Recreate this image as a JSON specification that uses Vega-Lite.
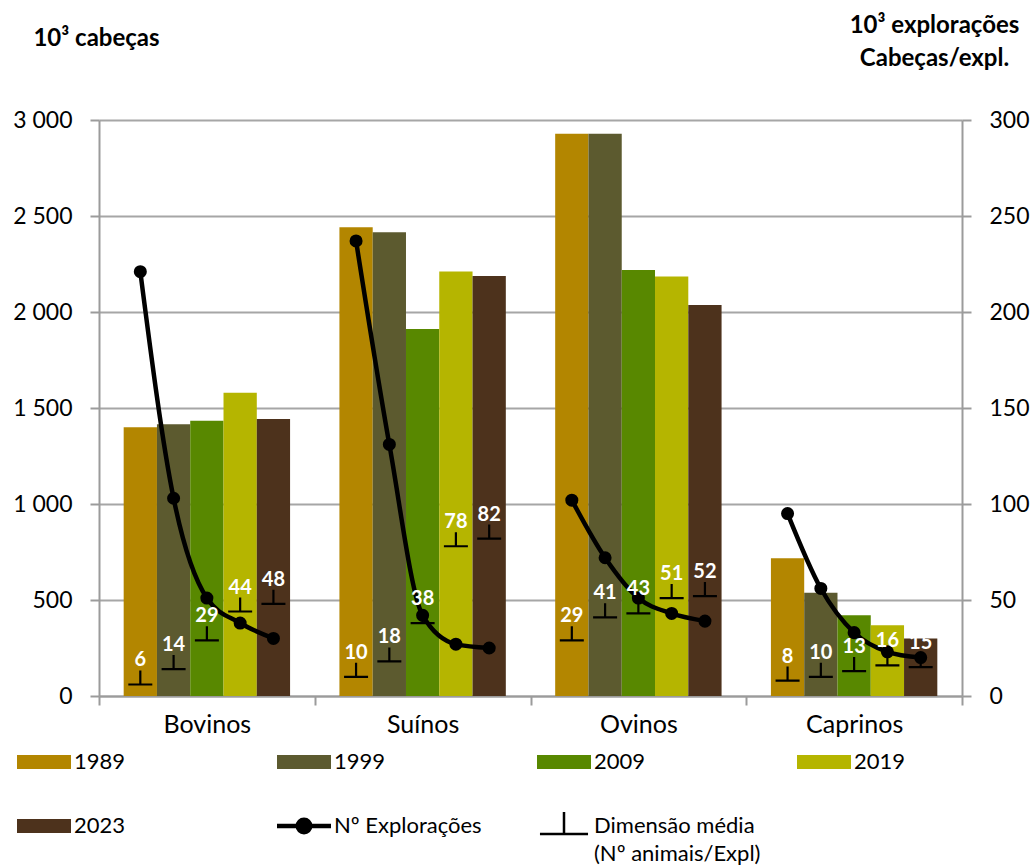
{
  "$schema": "https://vega.github.io/schema/vega-lite/v6.json",
  "width": 863,
  "height": 576,
  "autosize": {"type": "none"},
  "padding": {"left": 99, "top": 120, "right": 73, "bottom": 171},
  "background": "white",
  "config": {
    "view": {"stroke": null},
    "font": "Lato",
    "axis": {"labelFont": "Lato", "labelColor": "#000", "titleFont": "Lato", "titleColor": "#000", "domainColor": "#9B9B9B", "domainWidth": 2, "tickColor": "#9B9B9B", "tickWidth": 2, "gridColor": "#A6A6A6", "gridWidth": 2}
  },
  "data": {
    "values": [
      {"animal": "Bovinos", "ano": "1989", "cabecas": 1400, "exploracoes": 221, "dimensao": 6},
      {"animal": "Bovinos", "ano": "1999", "cabecas": 1415, "exploracoes": 103, "dimensao": 14},
      {"animal": "Bovinos", "ano": "2009", "cabecas": 1433, "exploracoes": 51, "dimensao": 29},
      {"animal": "Bovinos", "ano": "2019", "cabecas": 1579, "exploracoes": 38, "dimensao": 44},
      {"animal": "Bovinos", "ano": "2023", "cabecas": 1443, "exploracoes": 30, "dimensao": 48},
      {"animal": "Suínos", "ano": "1989", "cabecas": 2442, "exploracoes": 237, "dimensao": 10},
      {"animal": "Suínos", "ano": "1999", "cabecas": 2416, "exploracoes": 131, "dimensao": 18},
      {"animal": "Suínos", "ano": "2009", "cabecas": 1912, "exploracoes": 42, "dimensao": 38},
      {"animal": "Suínos", "ano": "2019", "cabecas": 2211, "exploracoes": 27, "dimensao": 78},
      {"animal": "Suínos", "ano": "2023", "cabecas": 2187, "exploracoes": 25, "dimensao": 82},
      {"animal": "Ovinos", "ano": "1989", "cabecas": 2929, "exploracoes": 102, "dimensao": 29},
      {"animal": "Ovinos", "ano": "1999", "cabecas": 2929, "exploracoes": 72, "dimensao": 41},
      {"animal": "Ovinos", "ano": "2009", "cabecas": 2219, "exploracoes": 51, "dimensao": 43},
      {"animal": "Ovinos", "ano": "2019", "cabecas": 2185, "exploracoes": 43, "dimensao": 51},
      {"animal": "Ovinos", "ano": "2023", "cabecas": 2037, "exploracoes": 39, "dimensao": 52},
      {"animal": "Caprinos", "ano": "1989", "cabecas": 718, "exploracoes": 95, "dimensao": 8},
      {"animal": "Caprinos", "ano": "1999", "cabecas": 538, "exploracoes": 56, "dimensao": 10},
      {"animal": "Caprinos", "ano": "2009", "cabecas": 420, "exploracoes": 33, "dimensao": 13},
      {"animal": "Caprinos", "ano": "2019", "cabecas": 368, "exploracoes": 23, "dimensao": 16},
      {"animal": "Caprinos", "ano": "2023", "cabecas": 300, "exploracoes": 20, "dimensao": 15}
    ]
  },
  "encoding": {
    "x": {
      "field": "animal", "type": "nominal",
      "sort": ["Bovinos", "Suínos", "Ovinos", "Caprinos"],
      "scale": {"paddingInner": 0, "paddingOuter": 0},
      "axis": {"title": null, "labelAngle": 0, "labelFontSize": 25, "tickBand": "extent", "tickSize": 9, "labelPadding": 7}
    },
    "xOffset": {
      "field": "ano", "type": "nominal",
      "sort": ["1989", "1999", "2009", "2019", "2023"],
      "scale": {"paddingInner": 0, "paddingOuter": 0.7415}
    }
  },
  "layer": [
    {
      "mark": {"type": "bar"},
      "encoding": {
        "y": {
          "field": "cabecas", "type": "quantitative",
          "scale": {"domain": [0, 3000]},
          "axis": {
            "values": [0, 500, 1000, 1500, 2000, 2500, 3000],
            "labelExpr": "replace(format(datum.value, ','), ',', ' ')",
            "labelFontSize": 23, "tickSize": 9, "labelPadding": 18, "grid": true,
            "title": "10³ cabeças", "titleAngle": 0, "titleX": -3, "titleY": -94,
            "titleAlign": "center", "titleBaseline": "top", "titleFontSize": 24, "titleFontWeight": "bold"
          }
        },
        "color": {
          "field": "ano", "type": "nominal",
          "scale": {
            "domain": ["1989", "1999", "2009", "2019", "2023", "Nº Explorações", "Dimensão média"],
            "range": ["#B38600", "#5C5A2F", "#588800", "#B5B500", "#4D321C", "#000000", "#000000"]
          },
          "legend": {
            "orient": "none", "legendX": -66, "legendY": 617,
            "title": null, "columns": 4, "direction": "horizontal",
            "gridAlign": "all", "columnPadding": 27, "rowPadding": 19, "padding": 0,
            "symbolSize": 2916, "symbolType": "M-1,-0.26L1,-0.26L1,0.26L-1,0.26Z",
            "labelFont": "Lato", "labelFontSize": 22, "labelColor": "#000", "labelOffset": 19, "labelLimit": 300,
            "labelBaseline": "alphabetic",
            "labelExpr": "datum.label == 'Dimensão média' ? ['Dimensão média', '(Nº animais/Expl)'] : datum.label",
            "encode": {
              "symbols": {
                "update": {
                  "shape": {"signal": "datum.value == 'Nº Explorações' ? 'M-1,0L1,0M-0.23,0A0.23,0.23,0,1,1,0.23,0A0.23,0.23,0,1,1,-0.23,0Z' : datum.value == 'Dimensão média' ? 'M-0.89,0.3L0.89,0.3M0,0.3L0,-0.52' : 'M-1,-0.26L1,-0.26L1,0.26L-1,0.26Z'"},
                  "strokeWidth": {"signal": "datum.value == 'Nº Explorações' ? 4.5 : datum.value == 'Dimensão média' ? 2.5 : 0"},
                  "stroke": {"value": "#000000"}
                }
              },
              "labels": {
                "update": {"dy": {"value": 7}, "lineHeight": {"value": 28}}
              }
            }
          }
        }
      }
    },
    {
      "layer": [
        {
          "mark": {"type": "line", "interpolate": "monotone", "color": "#000000", "strokeWidth": 4.5},
          "encoding": {
            "y": {
              "field": "exploracoes", "type": "quantitative",
              "scale": {"domain": [0, 300]},
              "axis": {
                "orient": "right", "values": [0, 50, 100, 150, 200, 250, 300],
                "labelFontSize": 23, "tickSize": 9, "labelPadding": 18, "grid": false,
                "title": ["10³ explorações", "Cabeças/expl."], "titleAngle": 0, "titleX": -28, "titleY": -107,
                "titleAlign": "center", "titleBaseline": "top", "titleFontSize": 24, "titleFontWeight": "bold", "titleLineHeight": 33
              }
            },
            "detail": {"field": "animal"},
            "order": {"field": "ano"}
          }
        },
        {
          "mark": {"type": "point", "filled": true, "color": "#000000", "size": 170, "opacity": 1},
          "encoding": {
            "y": {
              "field": "exploracoes", "type": "quantitative",
              "axis": {
                "orient": "right", "values": [0, 50, 100, 150, 200, 250, 300],
                "labelFontSize": 23, "tickSize": 9, "labelPadding": 18, "grid": false,
                "title": ["10³ explorações", "Cabeças/expl."], "titleAngle": 0, "titleX": -28, "titleY": -107,
                "titleAlign": "center", "titleBaseline": "top", "titleFontSize": 24, "titleFontWeight": "bold", "titleLineHeight": 33
              }
            }
          }
        },
        {
          "mark": {"type": "point", "shape": "M-1,0L1,0M0,0L0,-1.17", "size": 576, "filled": false, "stroke": "#000000", "strokeWidth": 2.2, "opacity": 1},
          "encoding": {
            "y": {
              "field": "dimensao", "type": "quantitative",
              "axis": {
                "orient": "right", "values": [0, 50, 100, 150, 200, 250, 300],
                "labelFontSize": 23, "tickSize": 9, "labelPadding": 18, "grid": false,
                "title": ["10³ explorações", "Cabeças/expl."], "titleAngle": 0, "titleX": -28, "titleY": -107,
                "titleAlign": "center", "titleBaseline": "top", "titleFontSize": 24, "titleFontWeight": "bold", "titleLineHeight": 33
              }
            }
          }
        },
        {
          "mark": {"type": "text", "color": "#FFFFFF", "fontWeight": "bold", "fontSize": 20, "dy": -18, "baseline": "alphabetic", "font": "Lato"},
          "encoding": {
            "y": {
              "field": "dimensao", "type": "quantitative",
              "axis": {
                "orient": "right", "values": [0, 50, 100, 150, 200, 250, 300],
                "labelFontSize": 23, "tickSize": 9, "labelPadding": 18, "grid": false,
                "title": ["10³ explorações", "Cabeças/expl."], "titleAngle": 0, "titleX": -28, "titleY": -107,
                "titleAlign": "center", "titleBaseline": "top", "titleFontSize": 24, "titleFontWeight": "bold", "titleLineHeight": 33
              }
            },
            "text": {"field": "dimensao", "type": "quantitative"}
          }
        }
      ]
    }
  ],
  "resolve": {"scale": {"y": "independent"}}
}
